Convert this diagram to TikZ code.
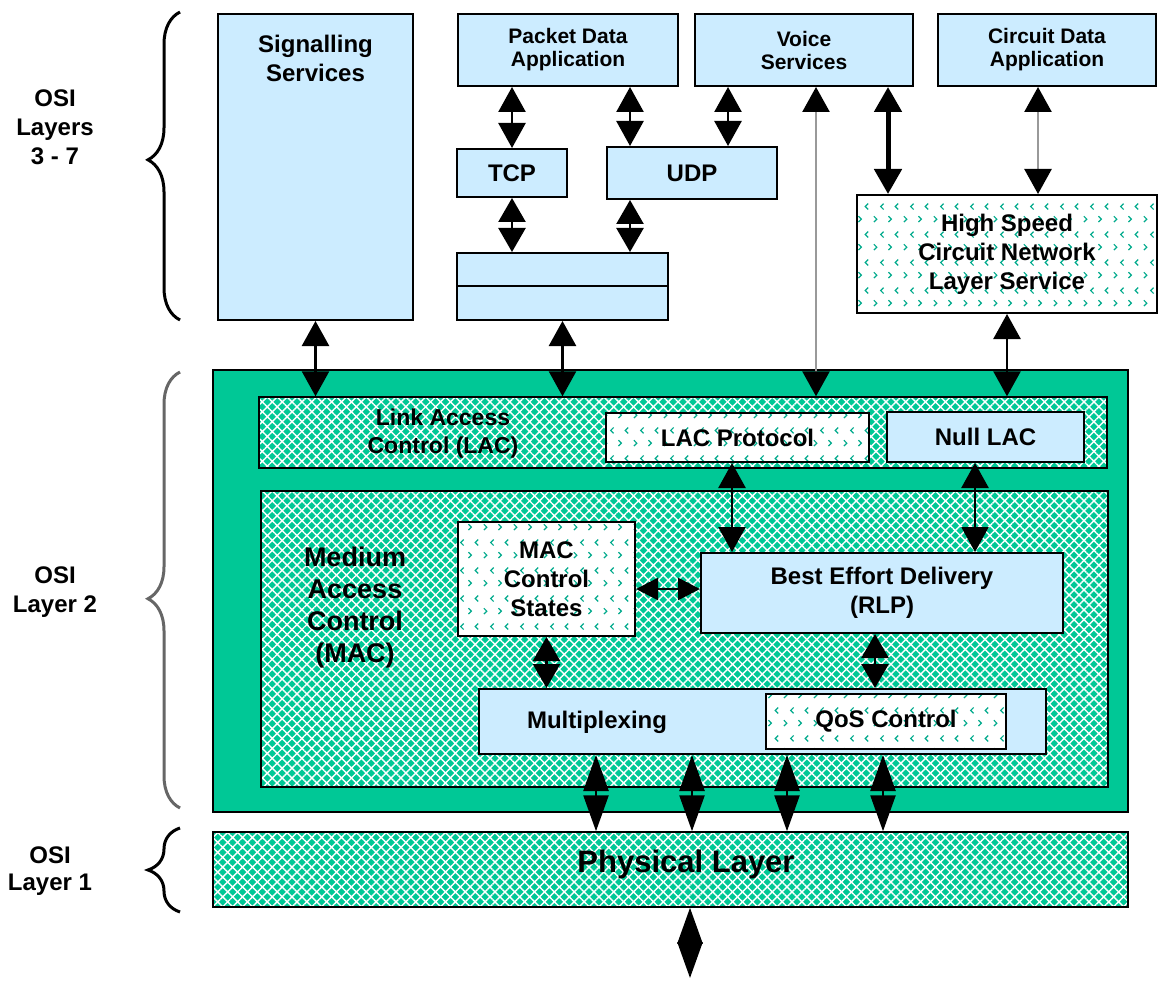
\documentclass[tikz,border=0pt]{standalone}
\usepackage{fontspec}
\setmainfont{Liberation Sans}
\usetikzlibrary{arrows.meta,positioning,patterns.meta,decorations.pathreplacing}
\definecolor{appblue}{RGB}{204,236,255}
\definecolor{osigreen}{RGB}{0,200,150}
\definecolor{dotgreen}{RGB}{0,170,140}

% small < > marks for the white boxes
\tikzdeclarepattern{
	name=chevrons,
	type=uncolored,
	bounding box={(0pt,0pt) and (30pt,28pt)},
	tile size={(30pt,28pt)},
	code={
		\draw[line width=1.2pt] (4pt,3pt) -- (7pt,6pt) -- (4pt,9pt);
		\draw[line width=1.2pt] (19pt,3pt) -- (22pt,6pt) -- (19pt,9pt);
		\draw[line width=1.2pt] (14pt,16pt) -- (11pt,19pt) -- (14pt,22pt);
		\draw[line width=1.2pt] (29pt,16pt) -- (26pt,19pt) -- (29pt,22pt);
	}
}

\begin{document}
\begin{tikzpicture}[x=1pt,y=-1pt,
	>={Triangle[width=27pt,length=25pt,color=black]},
	box/.style={draw,line width=2pt,inner sep=0pt,align=center,font=\fontsize{24}{29}\selectfont\bfseries},
	bluebox/.style={box,fill=appblue},
	dotbox/.style={box,preaction={fill=white},pattern=chevrons,pattern color=dotgreen},
	meshbox/.style={box,line width=1.5pt,preaction={fill=osigreen},pattern={Hatch[angle=45,distance=7pt,line width=1.4pt]},pattern color=white},
	applabel/.style={font=\fontsize{21}{23}\selectfont\bfseries},
	txt/.style={align=center,inner sep=0pt,font=\fontsize{24}{29}\selectfont\bfseries},
	link/.style={<->,line width=2.5pt},
	greylink/.style={link,draw=black!40},
	longtips/.style={>={Triangle[width=25pt,length=36pt,color=black]}},
	osibrace/.style={decorate,decoration={brace,amplitude=32pt,aspect=#1},line width=3pt},
	osibrace/.default=0.5]
	\useasboundingbox (0,0) rectangle (1161,981);

	% layers 3 - 7
	\node[bluebox,minimum width=195pt,minimum height=306pt] (sig) at (315.5,167) {};
	\node[txt] (sigtxt) at (315.5,58) {Signalling\\Services};
	\node[bluebox,applabel,minimum width=220pt,minimum height=72pt] (pda) at (568,50) {Packet Data\\Application};
	\node[bluebox,applabel,minimum width=218pt,minimum height=72pt] (voice) at (804,50) {Voice\\Services};
	\node[bluebox,applabel,minimum width=218pt,minimum height=72pt] (cda) at (1047,50) {Circuit Data\\Application};
	\node[bluebox,minimum width=110pt,minimum height=48pt] (tcp) at (512,173) {TCP};
	\node[bluebox,minimum width=170pt,minimum height=52pt] (udp) at (692,173) {UDP};
	\node[bluebox,minimum width=211pt,minimum height=67pt] (netstack) at (562.5,286.5) {};
	\draw[line width=2pt] (netstack.west) -- (netstack.east);
	\node[dotbox,minimum width=300pt,minimum height=118pt] (hscn) at (1007,254) {High Speed\\Circuit Network\\Layer Service};

	% layer 2
	\node[box,fill=osigreen,minimum width=915pt,minimum height=442pt] (l2) at (670.5,591) {};
	\node[meshbox,minimum width=848pt,minimum height=71pt] (lac) at (683,432.5) {};
	\node[txt,font=\fontsize{23}{28}\selectfont\bfseries] (lactxt) at (443,434) {Link Access\\Control (LAC)};
	\node[dotbox,minimum width=263pt,minimum height=49pt] (lacp) at (737.5,437.5) {LAC Protocol};
	\node[bluebox,minimum width=197pt,minimum height=50pt] (nulllac) at (985.5,437) {Null LAC};
	\node[meshbox,minimum width=847pt,minimum height=296pt] (mac) at (684.5,639) {};
	\node[txt,font=\fontsize{27}{32}\selectfont\bfseries] (mactxt) at (355,608) {Medium\\Access\\Control\\(MAC)};
	\node[dotbox,minimum width=177pt,minimum height=114pt] (macst) at (546.5,579) {MAC\\Control\\States};
	\node[bluebox,minimum width=362pt,minimum height=80pt] (bed) at (882,593) {Best Effort Delivery\\(RLP)};
	\node[bluebox,minimum width=567pt,minimum height=65pt] (mux) at (762.5,721.5) {};
	\node[txt] (muxtxt) at (597,722) {Multiplexing};
	\node[dotbox,minimum width=240pt,minimum height=55pt] (qos) at (886,721.5) {QoS Control};

	% layer 1
	\node[meshbox,minimum width=915pt,minimum height=75pt] (phy) at (670.5,869.5) {};
	\node[txt,font=\fontsize{31}{36}\selectfont\bfseries] (phytxt) at (686,864) {Physical Layer};
	\coordinate (phyout) at (690,978);

	% the links between the boxes
	\draw[link] (pda.south -| tcp.north) -- (tcp.north);
	\draw[link] (pda.south -| 630,0) -- (udp.north -| 630,0);
	\draw[link] (voice.south -| 728,0) -- (udp.north -| 728,0);
	\draw[link,>={Triangle[width=27pt,length=24pt]}] (tcp.south) -- (netstack.north -| tcp.south);
	\draw[link,>={Triangle[width=27pt,length=24pt]}] (udp.south -| 630,0) -- (netstack.north -| 630,0);
	\draw[greylink] (voice.south -| 816,0) -- (lac.north -| 816,0);
	\draw[link,line width=5pt] (voice.south -| 888,0) -- (hscn.north -| 888,0);
	\draw[greylink] (cda.south -| 1038,0) -- (hscn.north -| 1038,0);
	\draw[link] (sig.south) -- (lac.north -| sig.south);
	\draw[link] (netstack.south) -- (lac.north -| netstack.south);
	\draw[link] (hscn.south) -- (lac.north -| hscn.south);
	\draw[link] (lacp.south -| 732,0) -- (bed.north -| 732,0);
	\draw[link] (nulllac.south -| 975,0) -- (bed.north -| 975,0);
	\draw[link,>={Triangle[width=22pt,length=22pt]}] (macst.east |- 0,589) -- (bed.west |- 0,589);
	\draw[link,>={Triangle[width=27pt,length=24pt]}] (macst.south) -- (mux.north -| macst.south);
	\draw[link,>={Triangle[width=27pt,length=24pt]}] (bed.south -| 875,0) -- (mux.north -| 875,0);
	\foreach \x in {596,692,787,883}
		\draw[link,longtips] (mux.south -| \x,0) -- (phy.north -| \x,0);
	\draw[link,longtips] (phy.south -| phyout) -- (phyout);

	% OSI layer braces
	\draw[osibrace=0.52] (180,320) -- (180,12);
	\draw[osibrace=0.48,draw=black!60] (180,808) -- (180,372);
	\draw[osibrace] (180,912) -- (180,828);
	\node[txt] (osi37) at (55,127) {OSI\\Layers\\3 - 7};
	\node[txt] (osi2) at (55,592) {OSI\\Layer 2};
	\node[txt,font=\fontsize{24}{27}\selectfont\bfseries] (osi1) at (50,871) {OSI\\Layer 1};
\end{tikzpicture}
\end{document}
